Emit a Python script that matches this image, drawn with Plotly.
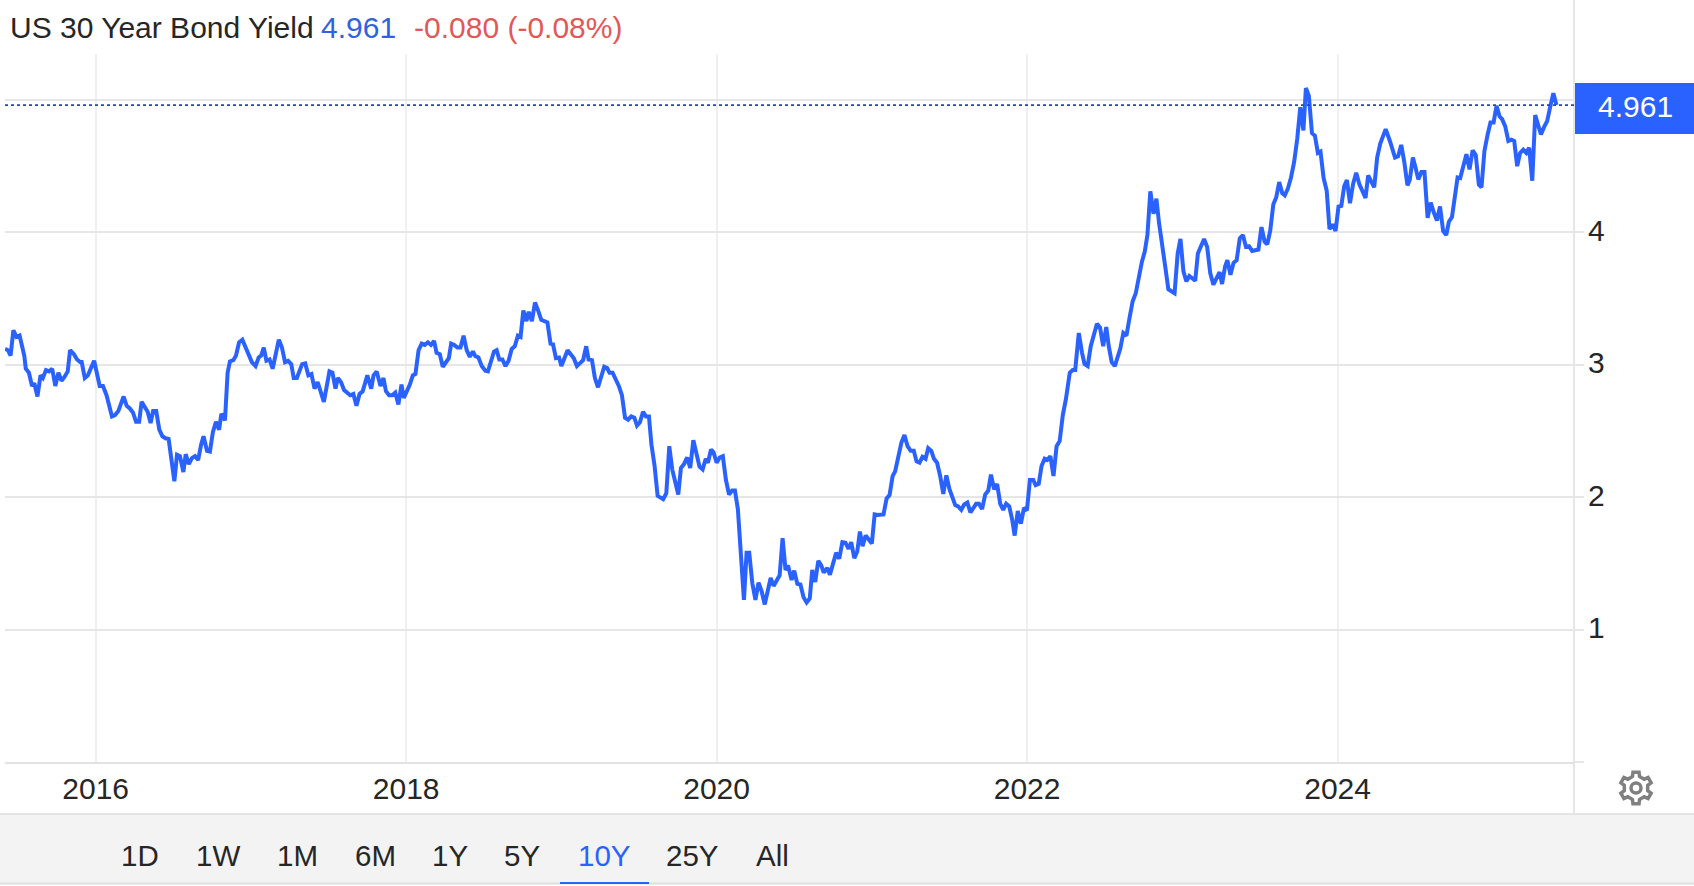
import numpy as np
import plotly.graph_objects as go

BLUE = "#2962ff"
RED = "#e25858"
TEXT = "#262626"
FONT = "Liberation Sans"
W, H = 1694, 886
L, R, T, B = 5, 1574, 54, 762

# decimal year / yield in %
years = [
    2015.416, 2015.435, 2015.452, 2015.47, 2015.49, 2015.51, 2015.54, 2015.55, 2015.57, 2015.59, 2015.605, 2015.625,
    2015.645, 2015.66, 2015.68, 2015.70, 2015.72, 2015.74, 2015.76, 2015.78, 2015.80, 2015.82, 2015.835, 2015.86,
    2015.88, 2015.90, 2015.91, 2015.93, 2015.95, 2015.99, 2016.026, 2016.047, 2016.07, 2016.105, 2016.125, 2016.146,
    2016.18, 2016.20, 2016.22, 2016.24, 2016.26, 2016.28, 2016.296, 2016.32, 2016.335, 2016.354, 2016.37, 2016.39,
    2016.41, 2016.43, 2016.45, 2016.47, 2016.49, 2016.507, 2016.524, 2016.543, 2016.565, 2016.58, 2016.60, 2016.62,
    2016.64, 2016.66, 2016.68, 2016.695, 2016.717, 2016.736, 2016.755, 2016.775, 2016.795, 2016.81, 2016.833, 2016.85,
    2016.865, 2016.887, 2016.904, 2016.924, 2016.945, 2016.974, 2017.006, 2017.03, 2017.05, 2017.066, 2017.083, 2017.10,
    2017.12, 2017.14, 2017.16, 2017.18, 2017.20, 2017.22, 2017.24, 2017.26, 2017.276, 2017.296, 2017.33, 2017.35,
    2017.37, 2017.39, 2017.41, 2017.43, 2017.47, 2017.506, 2017.525, 2017.545, 2017.56, 2017.58, 2017.60, 2017.62,
    2017.64, 2017.66, 2017.68, 2017.70, 2017.72, 2017.75, 2017.775, 2017.79, 2017.81, 2017.835, 2017.854, 2017.87,
    2017.89, 2017.91, 2017.93, 2017.95, 2017.97, 2017.985, 2018.024, 2018.043, 2018.06, 2018.08, 2018.10, 2018.12,
    2018.14, 2018.16, 2018.18, 2018.196, 2018.217, 2018.236, 2018.255, 2018.275, 2018.29, 2018.31, 2018.33, 2018.35,
    2018.37, 2018.39, 2018.41, 2018.43, 2018.446, 2018.466, 2018.487, 2018.51, 2018.527, 2018.55, 2018.566, 2018.583,
    2018.60, 2018.62, 2018.64, 2018.66, 2018.68, 2018.70, 2018.72, 2018.737, 2018.755, 2018.775, 2018.79, 2018.81,
    2018.83, 2018.85, 2018.87, 2018.91, 2018.93, 2018.946, 2018.965, 2018.985, 2019.00, 2019.04, 2019.08, 2019.10,
    2019.12, 2019.14, 2019.16, 2019.175, 2019.197, 2019.216, 2019.236, 2019.257, 2019.276, 2019.295, 2019.31, 2019.33,
    2019.37, 2019.39, 2019.41, 2019.43, 2019.45, 2019.47, 2019.487, 2019.506, 2019.526, 2019.545, 2019.564, 2019.58,
    2019.60, 2019.62, 2019.64, 2019.656, 2019.676, 2019.695, 2019.714, 2019.734, 2019.753, 2019.77, 2019.79, 2019.81,
    2019.83, 2019.85, 2019.87, 2019.89, 2019.91, 2019.93, 2019.944, 2019.964, 2019.98, 2020.00, 2020.02, 2020.04,
    2020.06, 2020.08, 2020.10, 2020.118, 2020.137, 2020.157, 2020.176, 2020.193, 2020.21, 2020.23, 2020.25, 2020.27,
    2020.29, 2020.31, 2020.348, 2020.367, 2020.406, 2020.425, 2020.444, 2020.46, 2020.483, 2020.50, 2020.52, 2020.54,
    2020.56, 2020.58, 2020.60, 2020.616, 2020.635, 2020.655, 2020.674, 2020.69, 2020.713, 2020.73, 2020.75, 2020.77,
    2020.79, 2020.81, 2020.83, 2020.85, 2020.867, 2020.887, 2020.906, 2020.923, 2020.94, 2020.96, 2021.00, 2021.018,
    2021.037, 2021.075, 2021.095, 2021.114, 2021.134, 2021.15, 2021.19, 2021.21, 2021.23, 2021.25, 2021.27, 2021.288,
    2021.307, 2021.326, 2021.346, 2021.363, 2021.383, 2021.40, 2021.42, 2021.44, 2021.46, 2021.48, 2021.50, 2021.52,
    2021.537, 2021.556, 2021.576, 2021.595, 2021.615, 2021.635, 2021.672, 2021.69, 2021.71, 2021.73, 2021.75, 2021.767,
    2021.788, 2021.807, 2021.827, 2021.846, 2021.865, 2021.885, 2021.904, 2021.92, 2021.94, 2021.96, 2021.98, 2021.999,
    2022.018, 2022.04, 2022.055, 2022.075, 2022.093, 2022.113, 2022.13, 2022.15, 2022.17, 2022.19, 2022.21, 2022.23,
    2022.25, 2022.275, 2022.294, 2022.31, 2022.333, 2022.354, 2022.37, 2022.39, 2022.41, 2022.45, 2022.47, 2022.49,
    2022.51, 2022.526, 2022.545, 2022.565, 2022.584, 2022.60, 2022.62, 2022.64, 2022.66, 2022.68, 2022.70, 2022.72,
    2022.74, 2022.758, 2022.775, 2022.794, 2022.814, 2022.833, 2022.85, 2022.89, 2022.91, 2022.93, 2022.95, 2022.97,
    2022.988, 2023.007, 2023.026, 2023.045, 2023.065, 2023.083, 2023.10, 2023.12, 2023.14, 2023.16, 2023.18, 2023.20,
    2023.24, 2023.256, 2023.275, 2023.29, 2023.31, 2023.33, 2023.35, 2023.37, 2023.39, 2023.41, 2023.43, 2023.45,
    2023.49, 2023.51, 2023.53, 2023.547, 2023.566, 2023.586, 2023.605, 2023.624, 2023.644, 2023.66, 2023.68, 2023.70,
    2023.72, 2023.74, 2023.76, 2023.78, 2023.796, 2023.815, 2023.835, 2023.854, 2023.873, 2023.89, 2023.91, 2023.93,
    2023.948, 2023.968, 2023.987, 2024.006, 2024.024, 2024.043, 2024.06, 2024.08, 2024.10, 2024.12, 2024.14, 2024.18,
    2024.197, 2024.236, 2024.255, 2024.275, 2024.31, 2024.337, 2024.37, 2024.39, 2024.41, 2024.43, 2024.45, 2024.465,
    2024.485, 2024.50, 2024.52, 2024.54, 2024.56, 2024.58, 2024.60, 2024.62, 2024.64, 2024.66, 2024.68, 2024.70,
    2024.717, 2024.737, 2024.756, 2024.773, 2024.79, 2024.81, 2024.83, 2024.85, 2024.87, 2024.89, 2024.91, 2024.927,
    2024.946, 2024.966, 2024.985, 2025.005, 2025.024, 2025.044, 2025.06, 2025.08, 2025.10, 2025.12, 2025.138, 2025.157,
    2025.176, 2025.196, 2025.215, 2025.234, 2025.254, 2025.273, 2025.29, 2025.31, 2025.33, 2025.35, 2025.37, 2025.39,
    2025.41,
]
yields = [
    3.12, 3.11, 3.07, 3.26, 3.21, 3.22, 3.07, 2.97, 2.94, 2.84, 2.86, 2.76,
    2.92, 2.90, 2.96, 2.95, 2.97, 2.84, 2.94, 2.88, 2.91, 2.95, 3.11, 3.08,
    3.04, 3.02, 3.02, 2.90, 2.92, 3.03, 2.84, 2.84, 2.77, 2.61, 2.62, 2.65,
    2.76, 2.69, 2.67, 2.64, 2.57, 2.57, 2.72, 2.67, 2.645, 2.56, 2.65, 2.65,
    2.51, 2.46, 2.445, 2.44, 2.29, 2.12, 2.32, 2.31, 2.19, 2.325, 2.25, 2.295,
    2.31, 2.28, 2.40, 2.46, 2.35, 2.345, 2.49, 2.57, 2.51, 2.63, 2.58, 2.94,
    3.025, 3.035, 3.07, 3.17, 3.19, 3.105, 3.02, 2.99, 3.055, 3.07, 3.13, 3.03,
    3.04, 2.97, 3.09, 3.19, 3.13, 3.02, 3.03, 3.005, 2.90, 2.90, 3.005, 3.01,
    2.92, 2.93, 2.82, 2.87, 2.72, 2.95, 2.94, 2.82, 2.90, 2.87, 2.81, 2.79,
    2.77, 2.78, 2.69, 2.78, 2.80, 2.92, 2.82, 2.92, 2.95, 2.84, 2.90, 2.80,
    2.77, 2.77, 2.79, 2.70, 2.85, 2.75, 2.85, 2.92, 2.93, 3.11, 3.16, 3.15,
    3.17, 3.15, 3.18, 3.09, 3.08, 2.985, 3.02, 3.05, 3.16, 3.15, 3.13, 3.13,
    3.22, 3.11, 3.06, 3.10, 3.065, 3.055, 2.99, 2.955, 2.95, 3.055, 3.10, 3.11,
    3.04, 3.04, 2.99, 3.03, 3.12, 3.14, 3.22, 3.21, 3.41, 3.33, 3.40, 3.33,
    3.47, 3.41, 3.34, 3.32, 3.16, 3.155, 3.05, 3.055, 2.99, 3.11, 3.05, 2.99,
    3.01, 3.035, 3.14, 3.04, 3.035, 2.90, 2.83, 2.92, 2.985, 2.975, 2.94, 2.94,
    2.84, 2.77, 2.60, 2.585, 2.61, 2.60, 2.54, 2.565, 2.645, 2.61, 2.61, 2.40,
    2.24, 2.01, 1.995, 1.985, 2.03, 2.385, 2.21, 2.12, 2.02, 2.22, 2.25, 2.30,
    2.22, 2.43, 2.32, 2.23, 2.21, 2.29, 2.26, 2.36, 2.34, 2.26, 2.30, 2.31,
    2.13, 2.02, 2.05, 2.05, 1.91, 1.58, 1.225, 1.58, 1.58, 1.35, 1.225, 1.355,
    1.29, 1.19, 1.39, 1.33, 1.41, 1.69, 1.45, 1.485, 1.375, 1.445, 1.345, 1.34,
    1.245, 1.205, 1.235, 1.45, 1.36, 1.52, 1.485, 1.43, 1.465, 1.415, 1.49, 1.58,
    1.535, 1.66, 1.655, 1.61, 1.66, 1.54, 1.59, 1.74, 1.63, 1.71, 1.65, 1.87,
    1.865, 1.87, 1.99, 2.015, 2.16, 2.195, 2.41, 2.47, 2.385, 2.35, 2.35, 2.27,
    2.26, 2.305, 2.29, 2.37, 2.35, 2.29, 2.26, 2.16, 2.025, 2.165, 2.06, 1.995,
    1.94, 1.93, 1.905, 1.945, 1.96, 1.885, 1.95, 1.95, 1.91, 2.02, 2.05, 2.17,
    2.06, 2.10, 1.95, 1.905, 1.95, 1.93, 1.83, 1.71, 1.895, 1.80, 1.92, 1.90,
    2.13, 2.13, 2.09, 2.10, 2.235, 2.29, 2.28, 2.31, 2.16, 2.385, 2.425, 2.62,
    2.74, 2.94, 2.96, 2.96, 3.24, 3.09, 3.005, 2.99, 3.14, 3.31, 3.28, 3.14,
    3.285, 3.14, 3.02, 2.99, 3.07, 3.12, 3.24, 3.22, 3.355, 3.48, 3.54, 3.67,
    3.78, 3.855, 3.98, 4.31, 4.14, 4.255, 4.07, 3.74, 3.57, 3.555, 3.54, 3.84,
    3.95, 3.705, 3.63, 3.67, 3.65, 3.635, 3.84, 3.905, 3.95, 3.89, 3.69, 3.605,
    3.70, 3.61, 3.74, 3.79, 3.68, 3.77, 3.79, 3.955, 3.98, 3.89, 3.895, 3.86,
    3.87, 4.04, 3.93, 3.91, 4.01, 4.21, 4.265, 4.38, 4.295, 4.28, 4.33, 4.415,
    4.53, 4.705, 4.945, 4.77, 5.09, 5.03, 4.75, 4.73, 4.60, 4.61, 4.41, 4.315,
    4.025, 4.06, 4.01, 4.195, 4.20, 4.35, 4.395, 4.22, 4.365, 4.45, 4.365, 4.26,
    4.43, 4.34, 4.565, 4.67, 4.78, 4.69, 4.565, 4.575, 4.66, 4.53, 4.355, 4.395,
    4.565, 4.50, 4.40, 4.455, 4.455, 4.11, 4.225, 4.15, 4.09, 4.195, 4.01, 3.98,
    4.08, 4.115, 4.265, 4.415, 4.41, 4.515, 4.59, 4.475, 4.62, 4.585, 4.36, 4.34,
    4.615, 4.735, 4.83, 4.83, 4.955, 4.875, 4.855, 4.80, 4.69, 4.70, 4.69, 4.50,
    4.60, 4.625, 4.60, 4.64, 4.39, 4.885, 4.82, 4.74, 4.795, 4.84, 4.95, 5.05,
    4.961,
]
last_value = 4.961
year_ticks = [2016, 2018, 2020, 2022, 2024]
yield_ticks = [0, 1, 2, 3, 4, 5]
yield_labels = ["", "1", "2", "3", "4", ""]
ranges = ["1D", "1W", "1M", "6M", "1Y", "5Y", "10Y", "25Y", "All"]
range_centres = [140, 218, 297, 375, 450, 522, 604, 692, 772]


def px(x, y):
    # page pixels to paper coordinates
    return (x - L) / (R - L), (B - y) / (B - T)


def rect(x0, y0, x1, y1, **kw):
    a, b = px(x0, y0)
    c, d = px(x1, y1)
    return dict(type="rect", xref="paper", yref="paper", x0=a, y0=b, x1=c, y1=d, **kw)


def text(x, y, s, color=TEXT, size=30, anchor="center"):
    a, b = px(x, y)
    return dict(xref="paper", yref="paper", x=a, y=b, text=s, showarrow=False, xanchor=anchor, yanchor="middle",
                font=dict(family=FONT, size=size, color=color))


def gear_path(cx, cy, r_out=16, r_in=12, teeth=6):
    pts = []
    step = 2 * np.pi / teeth
    for i in range(teeth):
        a = i * step - np.pi / 2
        for da, r in [(-0.30, r_in), (-0.19, r_out), (0.19, r_out), (0.30, r_in)]:
            pts.append(px(cx + r * np.cos(a + da), cy + r * np.sin(a + da)))
    return "M" + "L".join(f"{p[0]:.5f},{p[1]:.5f}" for p in pts) + "Z"


shapes = [
    rect(0, 814, W, 882.5, fillcolor="#f3f3f3", line_width=0, layer="below"),
    rect(0, 813, W, 815, fillcolor="#e4e4e4", line_width=0, layer="below"),
    rect(0, 882.5, W, 884.5, fillcolor="#dedede", line_width=0, layer="below"),
    rect(1573, 0, 1575, 814, fillcolor="#e6e6e6", line_width=0, layer="below"),
    rect(560, 882, 649, 884, fillcolor=BLUE, line_width=0),
    rect(1575, 83, W, 134, fillcolor=BLUE, line_width=0),
    dict(type="line", xref="paper", yref="y", x0=0, x1=1, y0=last_value, y1=last_value,
         line=dict(color="#2348b8", width=1.6, dash="dot")),
    dict(type="path", xref="paper", yref="paper", path=gear_path(1636, 788),
         line=dict(color="#808080", width=3.5), fillcolor="rgba(0,0,0,0)"),
    dict(type="circle", xref="paper", yref="paper",
         x0=px(1631, 0)[0], x1=px(1641, 0)[0], y0=px(0, 793)[1], y1=px(0, 783)[1],
         line=dict(color="#808080", width=3.5)),
]

annotations = [
    text(8, 28, "US 30 Year Bond Yield", anchor="left"),
    text(319, 28, "4.961", color="#2f62e0", anchor="left"),
    text(412, 28, "-0.080 (-0.08%)", color=RED, anchor="left"),
    text(1635, 107, "4.961", color="white"),
]
for name, cx in zip(ranges, range_centres):
    annotations.append(text(cx, 855, name, color=BLUE if name == "10Y" else TEXT, size=29.5))

fig = go.Figure(go.Scatter(x=years, y=yields, mode="lines", line=dict(color=BLUE, width=4), hoverinfo="skip"))
fig.update_layout(
    width=W,
    height=H,
    margin=dict(l=L, r=W - R, t=T, b=H - B),
    paper_bgcolor="white",
    plot_bgcolor="white",
    showlegend=False,
    shapes=shapes,
    annotations=annotations,
    font=dict(family=FONT, color=TEXT),
    xaxis=dict(
        range=[2015.416, 2025.523],
        tickvals=year_ticks,
        ticktext=[str(y) for y in year_ticks],
        tickfont=dict(size=30),
        ticklabelstandoff=-2,
        showgrid=True,
        gridcolor="#f0f0f0",
        gridwidth=2,
        zeroline=False,
        showline=True,
        linecolor="#e2e2e2",
        linewidth=2,
        ticks="outside",
        ticklen=1,
        tickcolor="rgba(0,0,0,0)",
    ),
    yaxis=dict(
        range=[0, 5.347],
        side="right",
        tickvals=yield_ticks,
        ticktext=yield_labels,
        tickfont=dict(size=30),
        ticklabelstandoff=-2,
        ticklabelshift=-2,
        showgrid=True,
        gridcolor="#e6e6e6",
        gridwidth=2,
        zeroline=False,
        ticks="outside",
        ticklen=9,
        tickcolor="#e6e6e6",
        tickwidth=2,
    ),
)

fig.write_html("out.html", config={"displayModeBar": False}, post_script="document.body.style.margin='0';")
